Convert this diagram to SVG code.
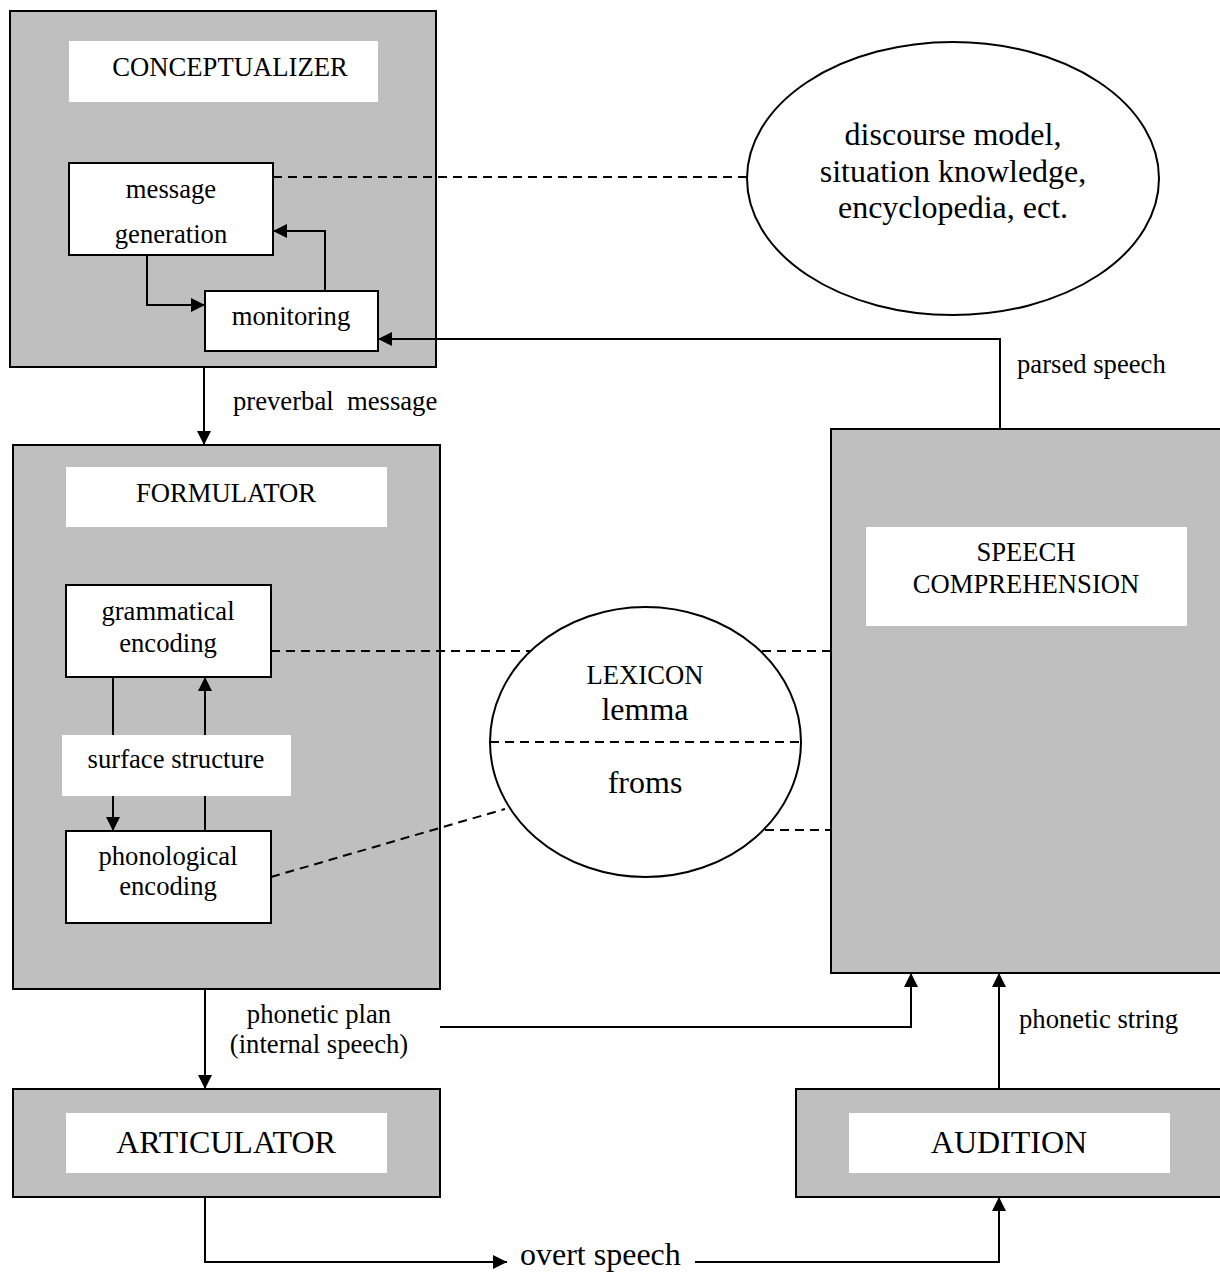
<svg xmlns="http://www.w3.org/2000/svg" width="1220" height="1273" viewBox="0 0 1220 1273">
<style>
.outer{fill:#bfbfbf;stroke:#000;stroke-width:2}
.lbl{fill:#fff;stroke:none}
.box{fill:#fff;stroke:#000;stroke-width:2}
.ell{fill:#fff;stroke:#000;stroke-width:2}
.ln{fill:none;stroke:#000;stroke-width:2}
.dash{fill:none;stroke:#000;stroke-width:2;stroke-dasharray:9,6}
text{font-family:"Liberation Serif","Times New Roman",serif;fill:#000;text-anchor:middle}
.s{font-size:26.67px}
.b{font-size:32px}
</style>
<defs>
<marker id="arr" markerUnits="userSpaceOnUse" markerWidth="14" markerHeight="14" refX="14" refY="7" orient="auto">
<path d="M0,0 L14,7 L0,14 Z" fill="#000"/>
</marker>
</defs>

<g id="conceptualizer">
<rect class="outer" x="10" y="11" width="426" height="356"/>
<rect class="lbl" x="69" y="41" width="309" height="61"/>
<text class="s" x="230" y="76">CONCEPTUALIZER</text>
</g>
<g id="message-generation">
<rect class="box" x="69" y="163" width="204" height="92"/>
<text class="s" x="171" y="198">message</text>
<text class="s" x="171" y="243">generation</text>
</g>
<g id="monitoring">
<rect class="box" x="205" y="291" width="173" height="60"/>
<text class="s" x="291" y="325">monitoring</text>
</g>

<g id="discourse-model">
<ellipse class="ell" cx="953" cy="178.5" rx="206" ry="136.5"/>
<text class="b" x="953" y="145">discourse model,</text>
<text class="b" x="953" y="182">situation knowledge,</text>
<text class="b" x="953" y="218">encyclopedia, ect.</text>
</g>

<g id="formulator">
<rect class="outer" x="13" y="445" width="427" height="544"/>
<rect class="lbl" x="66" y="467" width="321" height="60"/>
<text class="s" x="226" y="502">FORMULATOR</text>
</g>
<g id="grammatical-encoding">
<rect class="box" x="66" y="585" width="205" height="92"/>
<text class="s" x="168" y="620">grammatical</text>
<text class="s" x="168" y="652">encoding</text>
</g>
<g id="surface-structure">
<rect class="lbl" x="62" y="735" width="229" height="61"/>
<text class="s" x="176" y="768">surface structure</text>
</g>
<g id="phonological-encoding">
<rect class="box" x="66" y="831" width="205" height="92"/>
<text class="s" x="168" y="865">phonological</text>
<text class="s" x="168" y="895">encoding</text>
</g>

<g id="lexicon">
<ellipse class="ell" cx="645.5" cy="742" rx="155.5" ry="135"/>
<line class="dash" x1="490" y1="742" x2="801" y2="742"/>
<text class="s" x="645" y="684">LEXICON</text>
<text class="b" x="645" y="720">lemma</text>
<text class="b" x="645" y="793">froms</text>
</g>

<g id="speech-comprehension">
<rect class="outer" x="831" y="429" width="392" height="544"/>
<rect class="lbl" x="866" y="527" width="321" height="99"/>
<text class="s" x="1026" y="561">SPEECH</text>
<text class="s" x="1026" y="593">COMPREHENSION</text>
</g>

<g id="articulator">
<rect class="outer" x="13" y="1089" width="427" height="108"/>
<rect class="lbl" x="66" y="1113" width="321" height="60"/>
<text class="b" x="226" y="1153">ARTICULATOR</text>
</g>

<g id="audition">
<rect class="outer" x="796" y="1089" width="427" height="108"/>
<rect class="lbl" x="849" y="1113" width="321" height="60"/>
<text class="b" x="1009" y="1153">AUDITION</text>
</g>

<g id="connectors">
<line class="dash" x1="273" y1="177" x2="747" y2="177"/>
<line class="dash" x1="271" y1="651" x2="530" y2="651"/>
<line class="dash" x1="762" y1="651" x2="831" y2="651"/>
<line class="dash" x1="271" y1="877" x2="505" y2="809"/>
<line class="dash" x1="765" y1="830" x2="831" y2="830"/>

<path class="ln" d="M147,255 V305 H205" marker-end="url(#arr)"/>
<path class="ln" d="M325,291 V231 H273" marker-end="url(#arr)"/>
<path class="ln" d="M1000,429 V339 H378" marker-end="url(#arr)"/>
<path class="ln" d="M204,367 V445" marker-end="url(#arr)"/>
<path class="ln" d="M113,677 V735"/>
<path class="ln" d="M113,796 V831" marker-end="url(#arr)"/>
<path class="ln" d="M205,831 V796"/>
<path class="ln" d="M205,735 V677" marker-end="url(#arr)"/>
<path class="ln" d="M205,989 V1089" marker-end="url(#arr)"/>
<path class="ln" d="M440,1027 H911 V973" marker-end="url(#arr)"/>
<path class="ln" d="M999,1089 V973" marker-end="url(#arr)"/>
<path class="ln" d="M205,1197 V1262 H507" marker-end="url(#arr)"/>
<path class="ln" d="M695,1262 H999 V1197" marker-end="url(#arr)"/>

<text class="s" x="233" y="410" text-anchor="start" style="text-anchor:start" xml:space="preserve">preverbal  message</text>
<text class="s" x="1017" y="373" style="text-anchor:start">parsed speech</text>
<text class="s" x="319" y="1023">phonetic plan</text>
<text class="s" x="319" y="1053">(internal speech)</text>
<text class="s" x="1019" y="1028" style="text-anchor:start">phonetic string</text>
<text class="b" x="520" y="1265" style="text-anchor:start">overt speech</text>
</g>
</svg>
